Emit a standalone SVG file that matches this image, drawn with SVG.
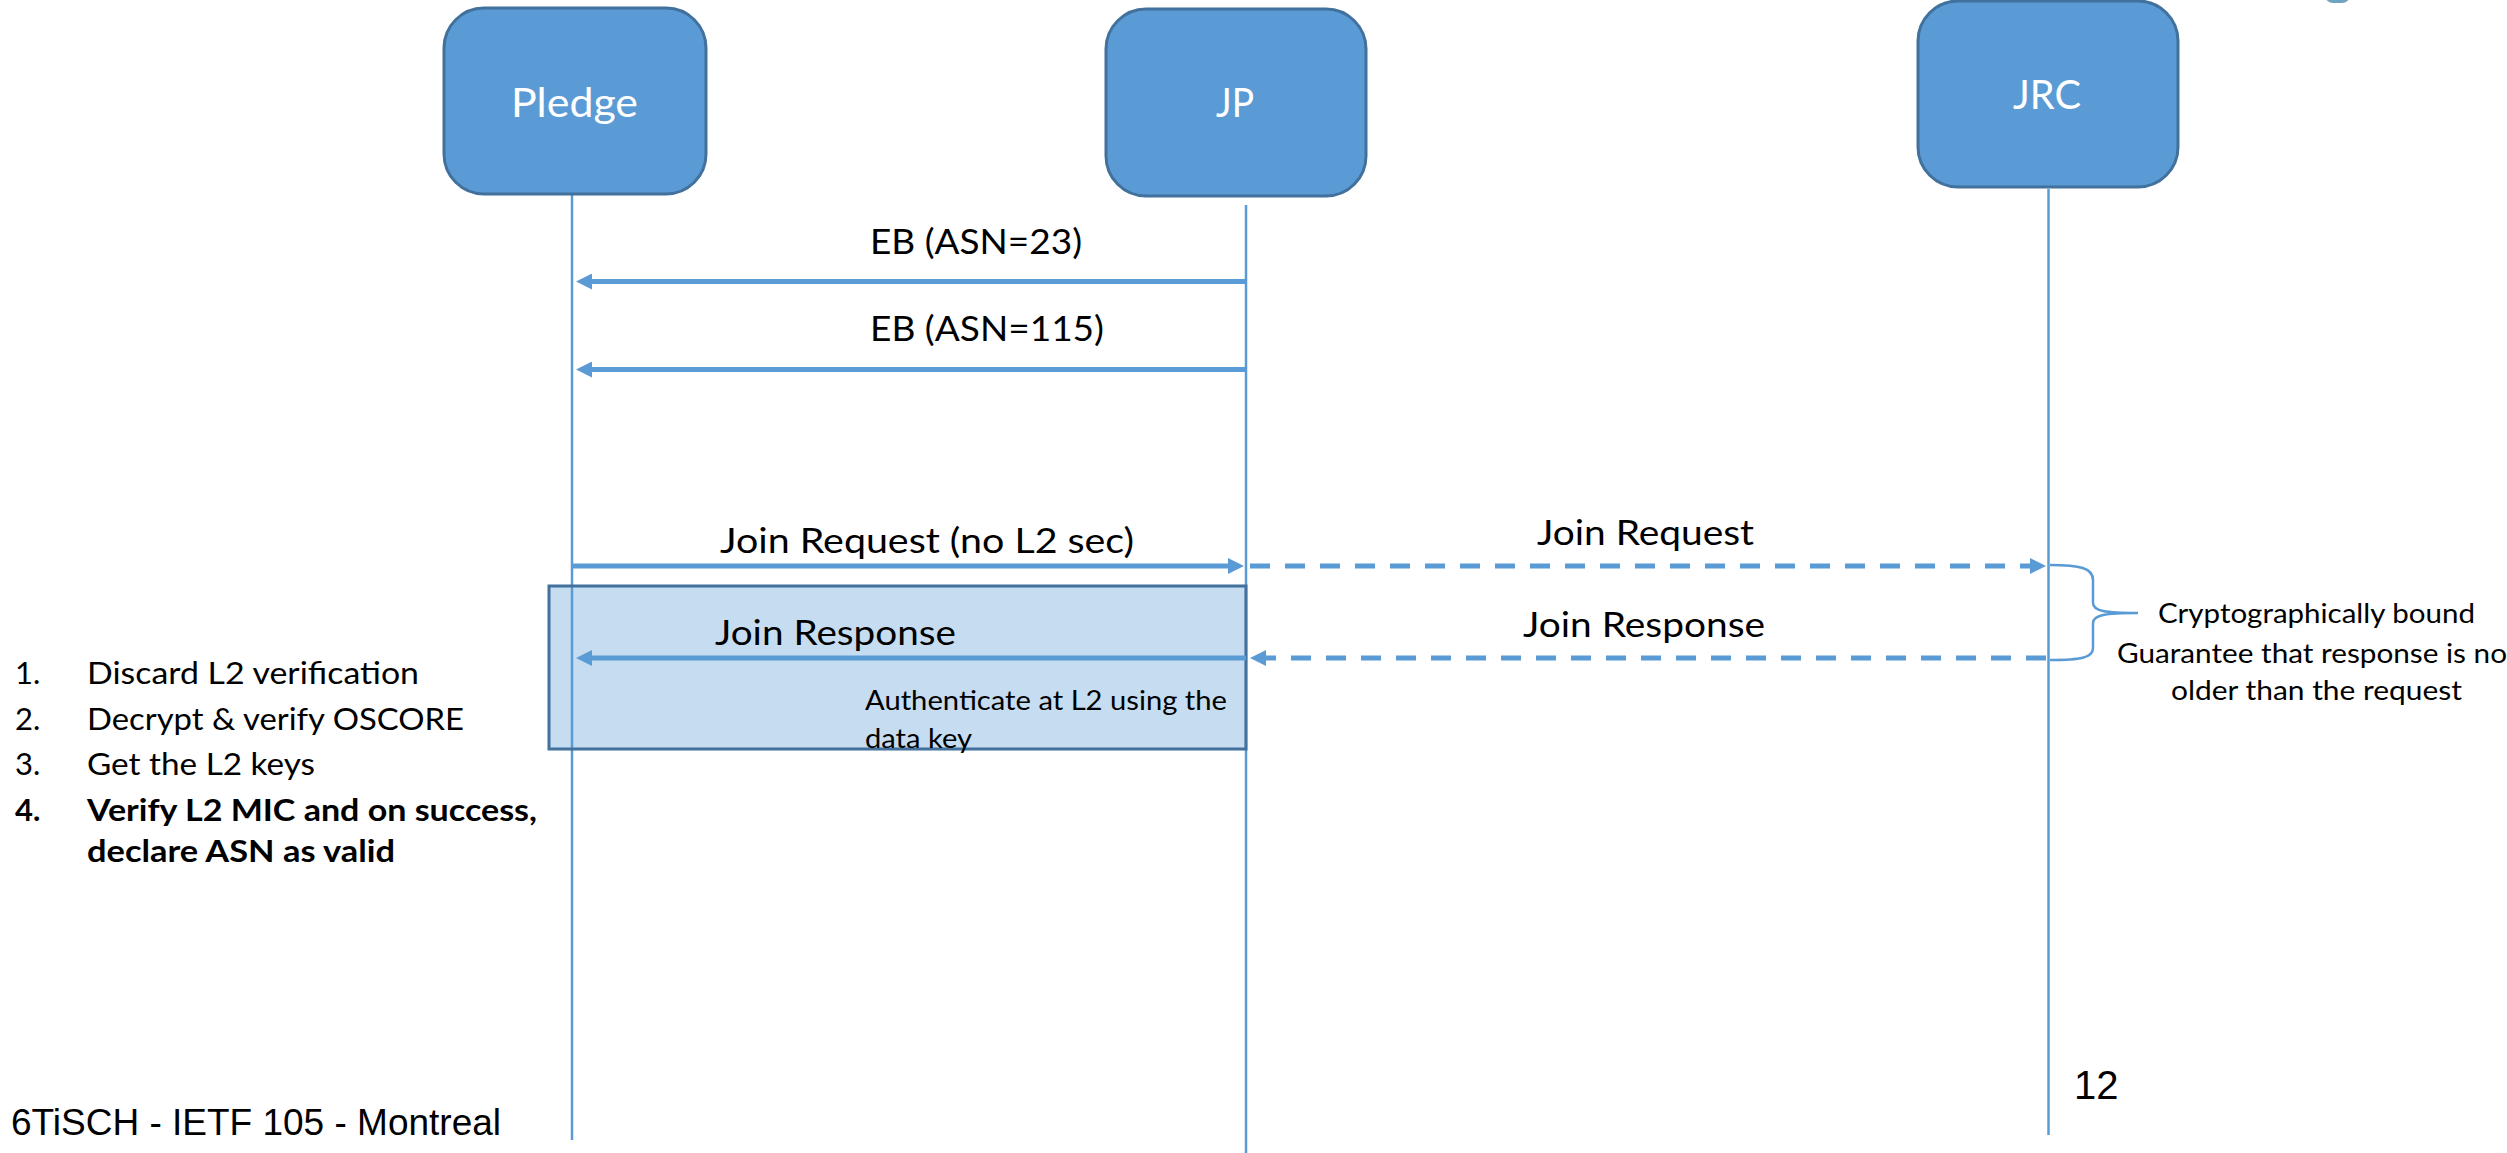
<svg xmlns="http://www.w3.org/2000/svg" width="2507" height="1153" viewBox="0 0 2507 1153">
  <style>
    .node { fill: #5b9bd5; stroke: #41719c; stroke-width: 3; }
    .node-label { font-family: Lato, "Open Sans", sans-serif; font-size: 41px; fill: #ffffff; text-anchor: middle; }
    .lifeline { stroke: #5b9bd5; stroke-width: 2.5; fill: none; }
    .msg { stroke: #5b9bd5; stroke-width: 5; fill: none; }
    .dashed { stroke-dasharray: 20 15; }
    .msg-label { font-family: Lato, "Open Sans", sans-serif; font-size: 35px; fill: #000000; }
    .note { font-family: Lato, "Open Sans", sans-serif; font-size: 26px; fill: #000000; }
    .list { font-family: Lato, "Open Sans", sans-serif; font-size: 31px; fill: #000000; }
    .bold { font-weight: bold; }
    .footer { font-family: "Liberation Sans", Arial, sans-serif; fill: #000000; }
  </style>
  <defs>
    <marker id="arrow" markerUnits="userSpaceOnUse" markerWidth="16" markerHeight="16" refX="4" refY="8" orient="auto">
      <path d="M0,0 L16,8 L0,16 z" fill="#5b9bd5"/>
    </marker>
  </defs>

  <rect width="2507" height="1153" fill="#ffffff"/>

  <!-- partial logo at the top edge -->
  <rect x="2325" y="-20" width="25" height="23" rx="8" fill="#6fa3c2"/>

  <!-- participants with their lifelines -->
  <g id="pledge">
    <line class="lifeline" x1="572" y1="194" x2="572" y2="1140"/>
    <rect class="node" x="444" y="8" width="262" height="186" rx="40"/>
    <text class="node-label" x="574.5" y="117" textLength="127" lengthAdjust="spacingAndGlyphs">Pledge</text>
  </g>
  <g id="jp">
    <line class="lifeline" x1="1246" y1="205" x2="1246" y2="1153"/>
    <rect class="node" x="1106" y="9" width="260" height="187" rx="40"/>
    <text class="node-label" x="1235" y="117" textLength="38" lengthAdjust="spacingAndGlyphs">JP</text>
  </g>
  <g id="jrc">
    <line class="lifeline" x1="2048.5" y1="189" x2="2048.5" y2="1135"/>
    <rect class="node" x="1918" y="1" width="260" height="186" rx="40"/>
    <text class="node-label" x="2047" y="109" textLength="68" lengthAdjust="spacingAndGlyphs">JRC</text>
  </g>

  <!-- highlighted L2 authentication region -->
  <g id="l2-auth">
    <rect x="549" y="586" width="697" height="163" fill="#5b9bd5" fill-opacity="0.35" stroke="#41719c" stroke-width="3"/>
    <text class="note" x="865" y="710" textLength="362" lengthAdjust="spacingAndGlyphs">Authenticate at L2 using the</text>
    <text class="note" x="865" y="748" textLength="107" lengthAdjust="spacingAndGlyphs">data key</text>
  </g>

  <!-- messages -->
  <g id="connectors">
    <line class="msg" x1="1246" y1="281.5" x2="588" y2="281.5" marker-end="url(#arrow)"/>
    <line class="msg" x1="1246" y1="369.5" x2="588" y2="369.5" marker-end="url(#arrow)"/>
    <line class="msg" x1="572" y1="566" x2="1232" y2="566" marker-end="url(#arrow)"/>
    <line class="msg dashed" x1="1250" y1="566" x2="2034" y2="566" marker-end="url(#arrow)"/>
    <line class="msg dashed" x1="2046" y1="658" x2="1262" y2="658" marker-end="url(#arrow)"/>
    <line class="msg" x1="1246" y1="658" x2="588" y2="658" marker-end="url(#arrow)"/>
    <!-- brace grouping request and response -->
    <path d="M2050,565 C2080,565 2093,568 2093,580 L2093,603 C2093,611 2105,613 2138,613 C2105,613 2093,615 2093,623 L2093,648 C2093,658 2080,660 2050,660" fill="none" stroke="#5b9bd5" stroke-width="2.5"/>
  </g>

  <!-- message labels -->
  <g id="labels">
    <text class="msg-label" x="870" y="254" textLength="212" lengthAdjust="spacingAndGlyphs">EB (ASN=23)</text>
    <text class="msg-label" x="870" y="341" textLength="234" lengthAdjust="spacingAndGlyphs">EB (ASN=115)</text>
    <text class="msg-label" x="720" y="553" textLength="414" lengthAdjust="spacingAndGlyphs">Join Request (no L2 sec)</text>
    <text class="msg-label" x="1537" y="545" textLength="217" lengthAdjust="spacingAndGlyphs">Join Request</text>
    <text class="msg-label" x="715" y="645" textLength="241" lengthAdjust="spacingAndGlyphs" fill="#243c5a">Join Response</text>
    <text class="msg-label" x="1523" y="637" textLength="242" lengthAdjust="spacingAndGlyphs">Join Response</text>
  </g>

  <!-- brace annotation -->
  <g id="binding-note">
    <text class="note" x="2158" y="623" textLength="317" lengthAdjust="spacingAndGlyphs">Cryptographically bound</text>
    <text class="note" x="2117" y="663" textLength="390" lengthAdjust="spacingAndGlyphs">Guarantee that response is no</text>
    <text class="note" x="2171" y="700" textLength="291" lengthAdjust="spacingAndGlyphs">older than the request</text>
  </g>

  <!-- pledge processing steps -->
  <g id="steps">
    <text class="list" x="15" y="684">1.</text>
    <text class="list" x="87" y="684" textLength="332" lengthAdjust="spacingAndGlyphs">Discard L2 verification</text>
    <text class="list" x="15" y="730">2.</text>
    <text class="list" x="87" y="730" textLength="377" lengthAdjust="spacingAndGlyphs">Decrypt &amp; verify OSCORE</text>
    <text class="list" x="15" y="775">3.</text>
    <text class="list" x="87" y="775" textLength="228" lengthAdjust="spacingAndGlyphs">Get the L2 keys</text>
    <text class="list bold" x="15" y="821">4.</text>
    <text class="list bold" x="87" y="821" textLength="450" lengthAdjust="spacingAndGlyphs">Verify L2 MIC and on success,</text>
    <text class="list bold" x="87" y="862" textLength="308" lengthAdjust="spacingAndGlyphs">declare ASN as valid</text>
  </g>

  <!-- slide footer -->
  <g id="footer">
    <text class="footer" x="11" y="1135" font-size="37">6TiSCH - IETF 105 - Montreal</text>
    <text class="footer" x="2074" y="1099" font-size="40">12</text>
  </g>
</svg>
